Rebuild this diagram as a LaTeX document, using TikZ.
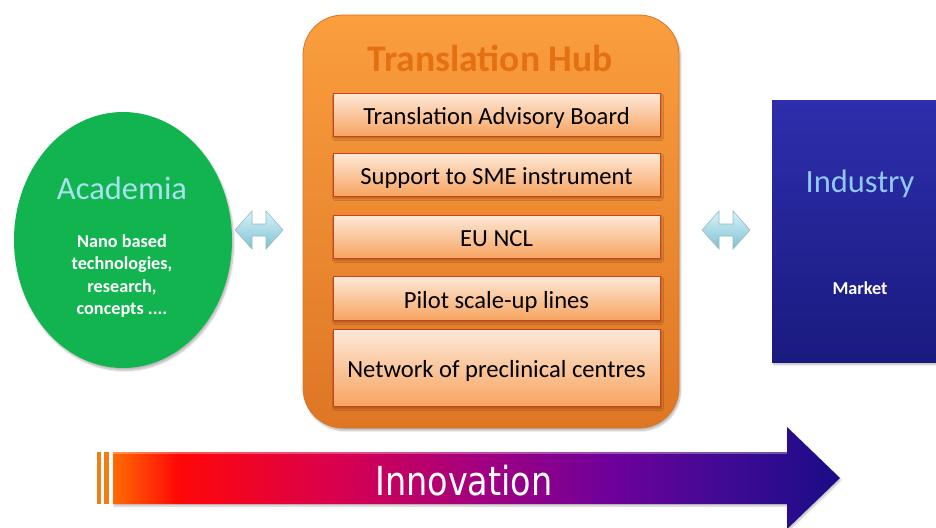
\documentclass[tikz,border=0pt]{standalone}
\usepackage{fontspec}
\setmainfont{Carlito}
\newfontfamily\condfont{DejaVu Sans Condensed}
\usetikzlibrary{shapes.geometric,shadows.blur,calc}

\definecolor{acadgreen}{RGB}{18,180,80}
\definecolor{acadtext}{RGB}{168,226,240}
\definecolor{hubtop}{RGB}{250,158,62}
\definecolor{hubbot}{RGB}{222,118,36}
\definecolor{hubedge}{RGB}{218,118,38}
\definecolor{hubtitle}{RGB}{228,112,18}
\definecolor{itemtop}{RGB}{253,233,217}
\definecolor{itembot}{RGB}{247,164,96}
\definecolor{itemedge}{RGB}{210,62,32}
\definecolor{indtop}{RGB}{46,46,172}
\definecolor{indbot}{RGB}{26,26,128}
\definecolor{indtext}{RGB}{142,200,240}
\definecolor{linktop}{RGB}{214,244,250}
\definecolor{linkbot}{RGB}{128,192,210}
\definecolor{linkedge}{RGB}{150,186,196}
\definecolor{stripe}{RGB}{242,124,22}

% colour run of the innovation arrow, from orange through red and purple to navy
\pgfdeclarehorizontalshading{innovation}{100bp}{%
  rgb(0bp)=(1,0.42,0);
  rgb(25bp)=(1,0.42,0);
  rgb(29.5bp)=(1,0.03,0.03);
  rgb(40bp)=(0.86,0,0.30);
  rgb(50bp)=(0.64,0,0.50);
  rgb(59bp)=(0.44,0,0.60);
  rgb(67bp)=(0.25,0.04,0.58);
  rgb(75bp)=(0.10,0.05,0.53);
  rgb(100bp)=(0.10,0.05,0.53)}

\begin{document}
\begin{tikzpicture}[x=1pt,y=-1pt,
  softshadow/.style={blur shadow={shadow xshift=1.5pt,shadow yshift=-2.5pt,
      shadow blur steps=6,shadow opacity=28}},
  academia/.style={ellipse,fill=acadgreen,minimum width=218,minimum height=256,
      inner sep=0pt,softshadow},
  hub/.style={rectangle,rounded corners=40pt,top color=hubtop,bottom color=hubbot,
      draw=hubedge,line width=0.8pt,minimum width=376,minimum height=413,
      inner sep=0pt,softshadow},
  item/.style={rectangle,top color=itemtop,bottom color=itembot,draw=itemedge,
      line width=0.8pt,minimum width=327,inner sep=0pt,
      text height=20pt,text depth=0pt,
      font=\fontsize{24.6}{28}\selectfont,text=black,softshadow},
  industry/.style={rectangle,top color=indtop,bottom color=indbot,
      minimum width=178,minimum height=262,inner sep=0pt,softshadow},
  bigtitle/.style={font=\fontsize{32.5}{38}\selectfont},
  smalltext/.style={font=\fontsize{18.2}{22.6}\selectfont\bfseries,text=white,align=center},
  linkarrow/.style={top color=linktop,bottom color=linkbot,draw=linkedge,line width=0.6pt},
]
\clip (0,0) rectangle (936,527);
\useasboundingbox (0,0) rectangle (936,527);

% Academia
\node[academia] (acad) at (123,240) {};
\node[bigtitle,text=acadtext] (acadtitle) at (122,188) {Academia};
\node[smalltext] (acadsub) at (122,276)
  {Nano based\\technologies,\\research,\\concepts ....};

% Translation Hub with its instruments
\node[hub] (hub) at (491,221.5) {};
\node[font=\fontsize{37.6}{42}\selectfont\bfseries,text=hubtitle] (hubtitle) at (490,58) {Translation Hub};
\node[item,minimum height=43] (tab)  at (496.5,114.5) {Translation Advisory Board};
\node[item,minimum height=43] (sme)  at (496.5,174.5) {Support to SME instrument};
\node[item,minimum height=43] (ncl)  at (496.5,236.5) {EU NCL};
\node[item,minimum height=44] (pilot) at (496.5,298) {Pilot scale-up lines};
\node[item,minimum height=77] (net)  at (496.5,367.5) {Network of preclinical centres};

% Industry
\node[industry] (ind) at (861,231) {};
\node[bigtitle,text=indtext] (indtitle) at (860,184) {Industry};
\node[smalltext] (market) at (860,288) {Market};

% two-way links between the blocks
\coordinate (linkL) at (259,230);
\coordinate (linkR) at (726,230);
\foreach \c in {linkL,linkR}{
  \draw[linkarrow] (\c) ++(-24,0) -- ++(17,-19) -- ++(0,13) -- ++(14,0) -- ++(0,-13)
     -- ++(17,19) -- ++(-17,19) -- ++(0,-13) -- ++(-14,0) -- ++(0,13) -- cycle;
}

% Innovation arrow
\fill[stripe] (97,452) rectangle (101,504);
\fill[stripe] (104,452) rectangle (109,504);
\coordinate (innoS) at (113,478);
\coordinate (innoT) at (840,478);
\shade[shading=innovation,blur shadow={shadow xshift=1pt,shadow yshift=-2pt,shadow opacity=25}]
  (innoS) ++(0,-26) -| (787,427) -- (innoT) -- (787,529) |- ($(innoS)+(0,26)$) -- cycle;
\draw[white,opacity=0.3,line width=1.5pt] (113,453.2) -- (787,453.2);
\node[text=white,font=\condfont\fontsize{40}{44}\selectfont] (inno) at (464,481)
  {\scalebox{0.93}[1]{Innovation}};
\end{tikzpicture}
\end{document}
